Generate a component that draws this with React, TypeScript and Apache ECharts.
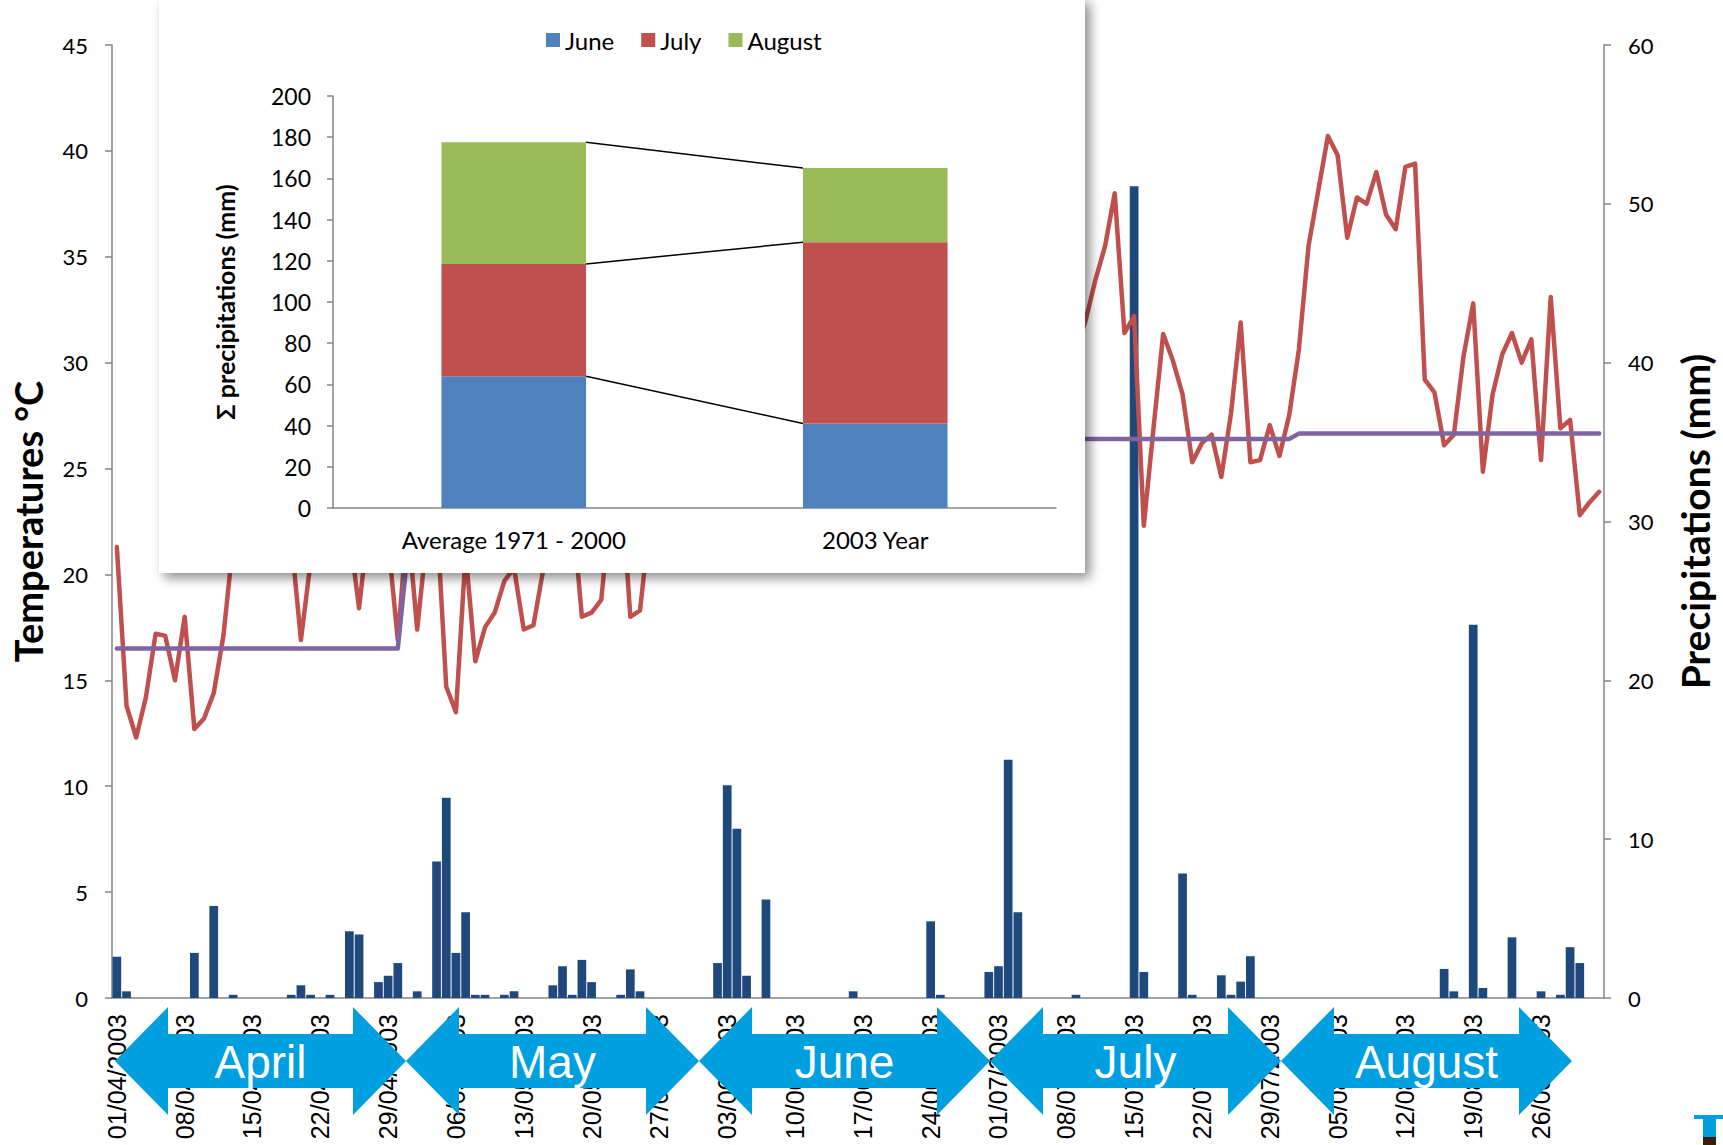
import React, { useEffect, useRef } from 'react';
import * as echarts from 'echarts';

const W = 1723;
const H = 1145;

// ---- main chart categories (daily, 01/04/2003 .. 01/09/2003) ----
const monthCodes = ['04', '05', '06', '07', '08'];
const monthLengths = [30, 31, 30, 31, 31];
const closingDate = '01/09/2003';
const dates: string[] = [];
monthCodes.forEach((m, i) => {
  for (let d = 1; d <= monthLengths[i]; d++) dates.push(`${String(d).padStart(2, '0')}/${m}/2003`);
});
dates.push(closingDate);

// ---- daily maximum temperature (°C) ----
const temperatures = [
  // April
  21.3, 13.8, 12.3, 14.2, 17.2, 17.1, 15.0, 18.0, 12.7, 13.2,
  14.4, 17.1, 21.5, 22.8, 23.5, 21.9, 24.2, 23.0, 21.7, 16.9,
  20.6, 22.4, 24.1, 23.3, 22.0, 18.4, 22.5, 23.8, 21.6, 16.9,
  // May
  22.6, 17.4, 21.8, 22.9, 14.7, 13.5, 21.0, 15.9, 17.5, 18.2,
  19.7, 20.3, 17.4, 17.6, 20.2, 22.6, 24.0, 23.2, 18.0, 18.2,
  18.8, 23.5, 24.8, 18.0, 18.3, 22.5, 23.8, 25.6, 27.2, 28.4,
  29.1,
  // June
  30.2, 28.6, 25.4, 24.1, 26.8, 28.9, 30.5, 31.2, 29.4, 27.0,
  28.3, 30.1, 31.6, 32.4, 30.8, 29.2, 31.5, 33.0, 32.1, 30.4,
  31.8, 33.6, 34.2, 32.5, 29.8, 27.6, 30.2, 32.3, 33.1, 31.4,
  // July
  28.2, 26.5, 27.9, 29.6, 31.0, 30.2, 28.8, 29.7, 30.6, 32.0,
  33.9, 35.5, 38.0, 31.4, 32.2, 22.3, 26.9, 31.35, 30.1, 28.5,
  25.3, 26.2, 26.6, 24.6, 27.6, 31.9, 25.3, 25.4, 27.05, 25.6,
  27.5,
  // August + 01/09
  30.6, 35.5, 38.1, 40.7, 39.8, 35.9, 37.8, 37.5, 39.0, 37.0,
  36.3, 39.25, 39.4, 29.2, 28.6, 26.1, 26.6, 30.3, 32.8, 24.85,
  28.5, 30.4, 31.4, 30.0, 31.1, 25.4, 33.1, 26.9, 27.3, 22.8,
  23.4, 23.9,
];

// ---- daily precipitation (mm) ----
const precipitation = [
  2.6, 0.42, 0, 0, 0, 0, 0, 0, 2.84, 0,
  5.8, 0, 0.2, 0, 0, 0, 0, 0, 0.2, 0.8,
  0.2, 0, 0.2, 0, 4.2, 4.0, 0, 1.0, 1.4, 2.2,
  0, 0.42, 0, 8.6, 12.6, 2.84, 5.4, 0.2, 0.2, 0,
  0.2, 0.42, 0, 0, 0, 0.8, 2.0, 0.2, 2.4, 1.0,
  0, 0, 0.2, 1.8, 0.42, 0, 0, 0, 0, 0,
  0, 0, 2.2, 13.4, 10.65, 1.4, 0, 6.2, 0, 0,
  0, 0, 0, 0, 0, 0, 0.42, 0, 0, 0,
  0, 0, 0, 0, 4.83, 0.2, 0, 0, 0, 0,
  1.64, 2.0, 15.0, 5.4, 0, 0, 0, 0, 0, 0.2,
  0, 0, 0, 0, 0, 51.1, 1.64, 0, 0, 0,
  7.84, 0.2, 0, 0, 1.43, 0.2, 1.03, 2.63, 0, 0,
  0, 0, 0, 0, 0, 0, 0, 0, 0, 0,
  0, 0, 0, 0, 0, 0, 0, 1.83, 0.42, 0,
  23.5, 0.63, 0, 0, 3.82, 0, 0, 0.42, 0, 0.2,
  3.2, 2.2, 0, 0,
];

// ---- monthly normal (purple step line) ----
const normalMonthly = [16.5, 21.0, 24.5, 26.4, 26.65];
const normalMonthDays = [30, 31, 30, 31, 32];
const normalDaily: number[] = [];
normalMonthly.forEach((v, i) => {
  for (let k = 0; k < normalMonthDays[i]; k++) normalDaily.push(v);
});

// ---- inset stacked chart ----
const insetCategories = ['Average 1971 - 2000', '2003 Year'];
const juneTotals = [64, 41];
const julyTotals = [54.5, 88];
const augustTotals = [59, 36];
const cumAvg = [juneTotals[0], juneTotals[0] + julyTotals[0], juneTotals[0] + julyTotals[0] + augustTotals[0]];
const cum2003 = [juneTotals[1], juneTotals[1] + julyTotals[1], juneTotals[1] + julyTotals[1] + augustTotals[1]];

// ---- month arrows (decoration) ----
const arrowMonths = ['April', 'May', 'June', 'July', 'August'];
const arrowTips = [115, 406, 699, 990, 1281, 1572];

const GRAY = '#868686';

function arrowGraphics() {
  const els: any[] = [];
  const cy = 1061;
  const h = 53;
  const body = 27;
  const head = 54;
  arrowMonths.forEach((m, i) => {
    const L = arrowTips[i];
    const R = arrowTips[i + 1];
    els.push({
      type: 'polygon',
      z: 70,
      silent: true,
      shape: {
        points: [
          [L, cy], [L + h, cy - head], [L + h, cy - body], [R - h, cy - body], [R - h, cy - head],
          [R, cy], [R - h, cy + head], [R - h, cy + body], [L + h, cy + body], [L + h, cy + head],
        ],
      },
      style: { fill: '#009FDF' },
    });
    els.push({
      type: 'text',
      z: 71,
      silent: true,
      x: (L + R) / 2,
      y: cy + 1,
      style: {
        text: m,
        fill: '#ffffff',
        fontSize: 46,
        fontFamily: 'Liberation Sans',
        align: 'center',
        verticalAlign: 'middle',
        textAlign: 'center',
        textVerticalAlign: 'middle',
      },
    });
  });
  return els;
}

export default function App() {
  const ref = useRef<HTMLDivElement>(null);

  useEffect(() => {
    document.body.style.margin = '0';
    if (!ref.current) return;
    const chart = echarts.init(ref.current, undefined, { renderer: 'svg', width: W, height: H });

    const axisLineStyle = { color: GRAY, width: 1.5 };

    const option: any = {
      animation: false,
      backgroundColor: '#ffffff',
      textStyle: { fontFamily: 'Lato' },
      grid: [
        { left: 112, right: 119, top: 45, bottom: 147 },
        { left: 333, top: 96, width: 723, height: 412 },
      ],
      legend: {
        data: ['June', 'July', 'August'],
        left: 541,
        top: 23,
        itemWidth: 14,
        itemHeight: 14,
        itemGap: 27,
        icon: 'rect',
        z: 60,
        textStyle: { fontSize: 24, color: '#000', fontFamily: 'Lato' },
      },
      xAxis: [
        {
          type: 'category',
          gridIndex: 0,
          data: dates,
          boundaryGap: true,
          axisLine: { lineStyle: axisLineStyle },
          axisTick: { interval: 6, length: 7, lineStyle: axisLineStyle },
          axisLabel: {
            interval: 6,
            rotate: 90,
            fontSize: 25,
            fontFamily: 'Liberation Sans',
            color: '#000',
            margin: 16,
          },
          splitLine: { show: false },
        },
        {
          type: 'category',
          gridIndex: 1,
          data: insetCategories,
          z: 60,
          axisLine: { lineStyle: axisLineStyle },
          axisTick: { length: 6, lineStyle: axisLineStyle },
          axisLabel: { fontSize: 24, color: '#000', margin: 19, fontFamily: 'Lato' },
        },
      ],
      yAxis: [
        {
          type: 'value',
          gridIndex: 0,
          position: 'left',
          min: 0,
          max: 45,
          interval: 5,
          name: 'Temperatures °C',
          nameLocation: 'middle',
          nameRotate: 90,
          nameGap: 65,
          nameTextStyle: { fontSize: 38, fontWeight: 'bold', color: '#000', fontFamily: 'Lato' },
          axisLine: { show: true, lineStyle: axisLineStyle },
          axisTick: { show: true, length: 7, lineStyle: axisLineStyle },
          axisLabel: { fontSize: 22, color: '#000', margin: 24, fontFamily: 'Lato' },
          splitLine: { show: false },
        },
        {
          type: 'value',
          gridIndex: 0,
          position: 'right',
          min: 0,
          max: 60,
          interval: 10,
          name: 'Precipitations (mm)',
          nameLocation: 'middle',
          nameRotate: 90,
          nameGap: 71,
          nameTextStyle: { fontSize: 39, fontWeight: 'bold', color: '#000', fontFamily: 'Lato' },
          axisLine: { show: true, lineStyle: axisLineStyle },
          axisTick: { show: true, length: 7, lineStyle: axisLineStyle },
          axisLabel: { fontSize: 22, color: '#000', margin: 24, fontFamily: 'Lato' },
          splitLine: { show: false },
        },
        {
          type: 'value',
          gridIndex: 1,
          min: 0,
          max: 200,
          interval: 20,
          z: 60,
          name: 'Σ precipitations (mm)',
          nameLocation: 'middle',
          nameRotate: 90,
          nameGap: 96,
          nameTextStyle: { fontSize: 25, fontWeight: 'bold', color: '#000', fontFamily: 'Lato' },
          axisLine: { show: true, lineStyle: axisLineStyle },
          axisTick: { show: true, length: 6, lineStyle: axisLineStyle },
          axisLabel: { fontSize: 23, color: '#000', margin: 22, fontFamily: 'Lato' },
          splitLine: { show: false },
        },
      ],
      series: [
        {
          name: 'Precipitation',
          type: 'bar',
          xAxisIndex: 0,
          yAxisIndex: 1,
          data: precipitation,
          barWidth: '90%',
          itemStyle: { color: '#1F497D' },
          z: 2,
        },
        {
          name: 'Temperature',
          type: 'line',
          xAxisIndex: 0,
          yAxisIndex: 0,
          data: temperatures,
          symbol: 'none',
          lineStyle: { color: '#C0504D', width: 4.5, cap: 'round', join: 'round' },
          itemStyle: { color: '#C0504D' },
          z: 3,
        },
        {
          name: 'Normal',
          type: 'line',
          xAxisIndex: 0,
          yAxisIndex: 0,
          data: normalDaily,
          symbol: 'none',
          lineStyle: { color: '#8064A2', width: 4.5, cap: 'round', join: 'round' },
          itemStyle: { color: '#8064A2' },
          z: 4,
        },
        {
          name: 'June',
          type: 'bar',
          stack: 'sum',
          xAxisIndex: 1,
          yAxisIndex: 2,
          barWidth: '40%',
          data: juneTotals,
          itemStyle: { color: '#4F81BD' },
          z: 60,
        },
        {
          name: 'July',
          type: 'bar',
          stack: 'sum',
          xAxisIndex: 1,
          yAxisIndex: 2,
          barWidth: '40%',
          data: julyTotals,
          itemStyle: { color: '#C0504D' },
          z: 60,
        },
        {
          name: 'August',
          type: 'bar',
          stack: 'sum',
          xAxisIndex: 1,
          yAxisIndex: 2,
          barWidth: '40%',
          data: augustTotals,
          itemStyle: { color: '#9BBB59' },
          z: 60,
        },
        {
          name: 'links',
          type: 'custom',
          xAxisIndex: 1,
          yAxisIndex: 2,
          silent: true,
          z: 61,
          data: cumAvg.map((v) => [0, v]),
          encode: { x: 0, y: 1 },
          renderItem: (params: any, api: any) => {
            const i = params.dataIndex;
            const p0 = api.coord([0, cumAvg[i]]);
            const p1 = api.coord([1, cum2003[i]]);
            const bw = api.size([1, 0])[0] * 0.4;
            return {
              type: 'line',
              shape: { x1: p0[0] + bw / 2, y1: p0[1], x2: p1[0] - bw / 2, y2: p1[1] },
              style: { stroke: '#000', lineWidth: 1.5 },
            };
          },
        },
      ],
      graphic: [
        {
          type: 'rect',
          z: 50,
          silent: true,
          shape: { x: 159, y: -2, width: 926, height: 575 },
          style: {
            fill: '#ffffff',
            shadowBlur: 12,
            shadowOffsetX: 5,
            shadowOffsetY: 5,
            shadowColor: 'rgba(0,0,0,0.45)',
          },
        },
        ...arrowGraphics(),
        { type: 'rect', z: 70, silent: true, shape: { x: 1694, y: 1115, width: 29, height: 4 }, style: { fill: '#00A0E0' } },
        { type: 'rect', z: 70, silent: true, shape: { x: 1703, y: 1118, width: 13, height: 19 }, style: { fill: '#00A0E0' } },
        { type: 'rect', z: 70, silent: true, shape: { x: 1703, y: 1137, width: 13, height: 8 }, style: { fill: '#3B1E10' } },
      ],
    };

    chart.setOption(option);
    return () => {
      chart.dispose();
    };
  }, []);

  return (
    <div
      ref={ref}
      style={{ position: 'fixed', left: 0, top: 0, width: W, height: H, background: '#fff' }}
    />
  );
}
